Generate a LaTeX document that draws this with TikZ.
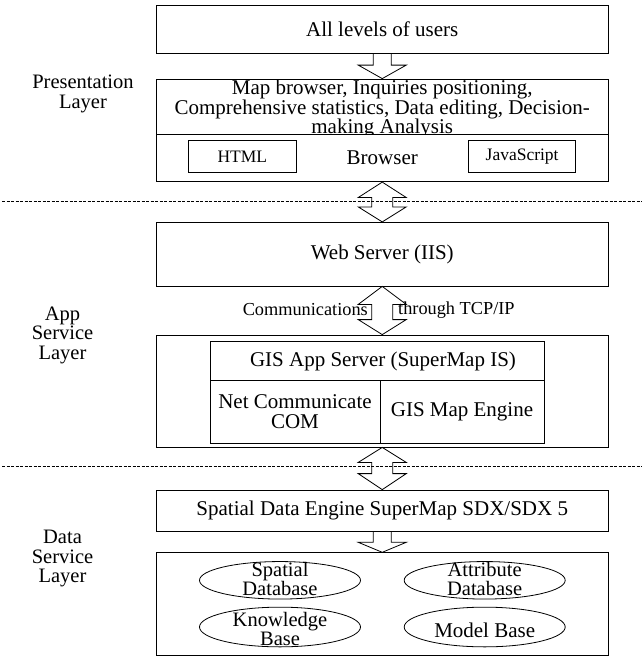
\documentclass[tikz,border=0pt]{standalone}
\usepackage{fontspec}
\setmainfont{Liberation Serif}
\usetikzlibrary{calc,shapes.geometric}
\newcommand\fntA{\fontsize{21pt}{19.5pt}\selectfont}
\newcommand\fntB{\fontsize{17.5pt}{19pt}\selectfont}
\newcommand\fntC{\fontsize{18.3pt}{19pt}\selectfont}
\newcommand\fntL{\fontsize{20.5pt}{19.5pt}\selectfont}
\newcommand\fntE{\fontsize{20.5pt}{18.5pt}\selectfont}
\newcommand\myDblArrow[4]{%
  \draw[harrow] (#1) -- ($(#1)+(24,#3)$) -- ($(#1)+(10.5,#3)$) -- ($(#2)+(10.5,-#4)$)
    -- ($(#2)+(24,-#4)$) -- (#2) -- ($(#2)+(-24,-#4)$) -- ($(#2)+(-10.5,-#4)$)
    -- ($(#1)+(-10.5,#3)$) -- ($(#1)+(-24,#3)$) -- cycle;}
\newcommand\mySglArrow[3]{%
  \draw[harrow] ($(#1)+(-9,0)$) -- ($(#2)+(-9,-#3)$) -- ($(#2)+(-24,-#3)$) -- (#2)
    -- ($(#2)+(24,-#3)$) -- ($(#2)+(9,-#3)$) -- ($(#1)+(9,0)$);}
\begin{document}
\begin{tikzpicture}[x=1pt,y=-1pt,
  box/.style={draw, line width=0.8pt, inner sep=0pt, font=\fntA},
  txt/.style={inner sep=0pt, font=\fntA},
  sml/.style={inner sep=0pt, font=\fntC},
  ell/.style={draw, ellipse, line width=0.8pt, inner sep=0pt, minimum width=161pt},
  harrow/.style={draw, line width=0.8pt, line join=miter},
  dsh/.style={draw, line width=0.7pt, dash pattern=on 3pt off 1.5pt},
  sep/.style={draw, line width=0.8pt}]
\useasboundingbox (0,0) rectangle (642,657);

% top
\node[box, minimum width=451.5pt, minimum height=47.5pt] (users) at (382.25,29.25) {All levels of users};

% presentation layer
\node[box, minimum width=451.5pt, minimum height=102.7pt] (pres) at (382.25,130.35) {};
\draw[sep] (156.5,134.3) -- (608,134.3);
\begin{scope}
  \clip (156.5,79) rectangle (608,134.3);
  \node[txt, anchor=base] (p1) at (382.25,94.5) {Map browser, Inquiries positioning,};
  \node[txt, anchor=base] (p2) at (382.25,114) {Comprehensive statistics, Data editing, Decision-};
  \node[txt, anchor=base] (p3) at (382.25,133.5) {making Analysis};
\end{scope}
\node[box, font=\fntB, minimum width=107.3pt, minimum height=31.6pt] (html) at (242.35,156.5) {HTML};
\node[box, font=\fntB, minimum width=107.3pt, minimum height=31.6pt] (js) at (522.15,156.5) {JavaScript};
\node[txt] (brw) at (382.25,158) {Browser};

% web server
\node[box, minimum width=451.5pt, minimum height=63.7pt] (web) at (382.25,254.15) {Web Server (IIS)};

% app server
\node[box, minimum width=451.5pt, minimum height=112pt] (app) at (382.25,391) {};
\node[box, minimum width=334pt, minimum height=102.3pt] (inner) at (377,392.15) {};
\draw[sep] (210,380) -- (544,380);
\draw[sep] (380,380) -- (380,443.3);
\node[txt] (gis) at (383,361) {GIS App Server (SuperMap IS)};
\node[txt, align=center] (net) at (295,411.7) {Net Communicate\\COM};
\node[txt] (eng) at (462,412) {GIS Map Engine};

\node[sml, anchor=east] (comm) at (368,310) {Communications};
\node[sml, anchor=west] (tcp) at (398,310) {through TCP/IP};

% data layer
\node[box, minimum width=451.5pt, minimum height=41.7pt] (sde) at (382.25,510.85) {Spatial Data Engine SuperMap SDX/SDX 5};
\node[box, minimum width=451.5pt, minimum height=102.3pt] (data) at (382.25,603.85) {};
\node[ell, minimum height=37.5pt] (e1) at (280,580.3) {};
\node[ell, minimum height=37.5pt] (e2) at (484.7,580.3) {};
\node[ell, minimum height=39.7pt] (e3) at (280,627) {};
\node[ell, minimum height=39.7pt] (e4) at (484.7,627) {};
\node[txt, font=\fntE, align=center] (t1) at (280,579) {Spatial\\Database};
\node[txt, font=\fntE, align=center] (t2) at (484.7,579) {Attribute\\Database};
\node[txt, font=\fntE, align=center] (t3) at (280,629) {Knowledge\\Base};
\node[txt] (t4) at (484.7,630) {Model Base};

% layer labels
\node[txt, font=\fntL, align=center] (lp) at (83,94) {Presentation\\Layer};
\node[txt, font=\fntL, align=center] (la) at (62.5,335) {App\\Service\\Layer};
\node[txt, font=\fntL, align=center] (ld) at (62.5,558.5) {Data\\Service\\Layer};

% dashed separators
\draw[dsh] (2,201.7) -- (642,201.7);
\draw[dsh] (2,466.5) -- (642,466.5);

% arrows
\mySglArrow{users.south}{pres.north}{13.5}
\myDblArrow{pres.south}{web.north}{15.4}{15}
\myDblArrow{web.south}{app.north}{18}{15}
\myDblArrow{app.south}{sde.north}{15}{16}
\mySglArrow{sde.south}{data.north}{10}
\end{tikzpicture}
\end{document}
